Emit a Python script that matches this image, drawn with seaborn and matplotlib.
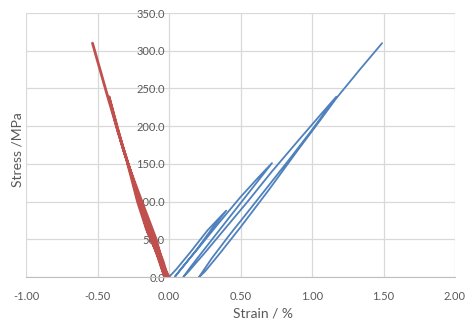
import matplotlib
matplotlib.use("Agg")
import matplotlib.pyplot as plt
import seaborn as sns
import pandas as pd

# axial strain cycles (blue)
axial_strain = [0.00, 0.05, 0.15, 0.27, 0.40,
                0.30, 0.20, 0.10, 0.04,
                0.08, 0.20, 0.35, 0.50, 0.62, 0.72,
                0.60, 0.48, 0.36, 0.24, 0.15, 0.10,
                0.14, 0.25, 0.40, 0.55, 0.72, 0.90, 1.05, 1.17,
                1.00, 0.85, 0.70, 0.55, 0.42, 0.30, 0.21,
                0.25, 0.35, 0.50, 0.70, 0.90, 1.05, 1.17, 1.33, 1.49]
axial_stress = [0.0, 10.0, 33.0, 62.0, 88.0,
                64.0, 38.0, 14.0, 0.0,
                10.0, 37.0, 72.0, 106.0, 131.0, 151.0,
                122.0, 93.0, 64.0, 35.0, 13.0, 0.0,
                8.0, 32.0, 66.0, 100.0, 140.0, 180.0, 213.0, 239.0,
                195.0, 158.0, 122.0, 86.0, 55.0, 25.0, 0.0,
                7.0, 30.0, 66.0, 116.0, 168.0, 206.0, 237.0, 274.0, 310.0]

# lateral strain cycles (red)
lateral_strain = [0.00, -0.08, -0.15, -0.19,
                  -0.10, -0.04, -0.01,
                  -0.08, -0.16, -0.22, -0.29,
                  -0.19, -0.09, -0.02,
                  -0.10, -0.18, -0.27, -0.36, -0.42,
                  -0.32, -0.21, -0.11, -0.03,
                  -0.12, -0.22, -0.32, -0.43, -0.535]
lateral_stress = [0.0, 30.0, 60.0, 87.0,
                  50.0, 20.0, 0.0,
                  30.0, 65.0, 100.0, 151.0,
                  100.0, 50.0, 0.0,
                  40.0, 85.0, 140.0, 195.0, 239.0,
                  170.0, 105.0, 50.0, 0.0,
                  50.0, 110.0, 170.0, 240.0, 310.0]

x_ticks = [-1.0, -0.5, 0.0, 0.5, 1.0, 1.5, 2.0]
y_ticks = [0, 50, 100, 150, 200, 250, 300, 350]

blue = "#4F81BD"
red = "#C0504D"
grey = "#595959"

sns.set_style("white")
plt.rcParams['font.family'] = ['Lato', 'DejaVu Sans']

fig = plt.figure(figsize=(4.67, 3.26), dpi=100)
ax = fig.add_axes([26 / 467, 49 / 326, 429 / 467, 264 / 326])

df_axial = pd.DataFrame({"strain": axial_strain, "stress": axial_stress})
df_lateral = pd.DataFrame({"strain": lateral_strain, "stress": lateral_stress})
sns.lineplot(data=df_axial, x="strain", y="stress", sort=False, estimator=None,
             ax=ax, color=blue, linewidth=1.3)
sns.lineplot(data=df_lateral, x="strain", y="stress", sort=False, estimator=None,
             ax=ax, color=red, linewidth=2.0)

ax.set_xlim(-1.0, 2.0)
ax.set_ylim(0, 350)
ax.set_xticks(x_ticks)
ax.set_yticks(y_ticks)
ax.set_xticklabels([f"{v:.2f}" for v in x_ticks])
ax.set_yticklabels([f"{v:.1f}" for v in y_ticks])
ax.grid(True, color="#D9D9D9", linewidth=0.9)
ax.set_axisbelow(True)

# Excel style: value axis crossing at zero strain
ax.spines['left'].set_position(('data', 0))
ax.spines['left'].set_visible(False)
ax.spines['top'].set_visible(False)
ax.spines['right'].set_visible(False)
ax.spines['bottom'].set_color("#BFBFBF")
ax.tick_params(axis='both', length=0, labelsize=8, labelcolor=grey)
ax.tick_params(axis='x', pad=10)
ax.tick_params(axis='y', pad=3)

ax.set_xlabel("")
ax.set_ylabel("")
fig.text(263 / 467, 1 - 314 / 326, "Strain / %", ha="center", va="center",
         fontsize=10, color=grey)
fig.text(18 / 467, 1 - 150 / 326, "Stress /MPa", ha="center", va="center",
         rotation=90, fontsize=10, color=grey)

fig.savefig("out.png", dpi=100)
